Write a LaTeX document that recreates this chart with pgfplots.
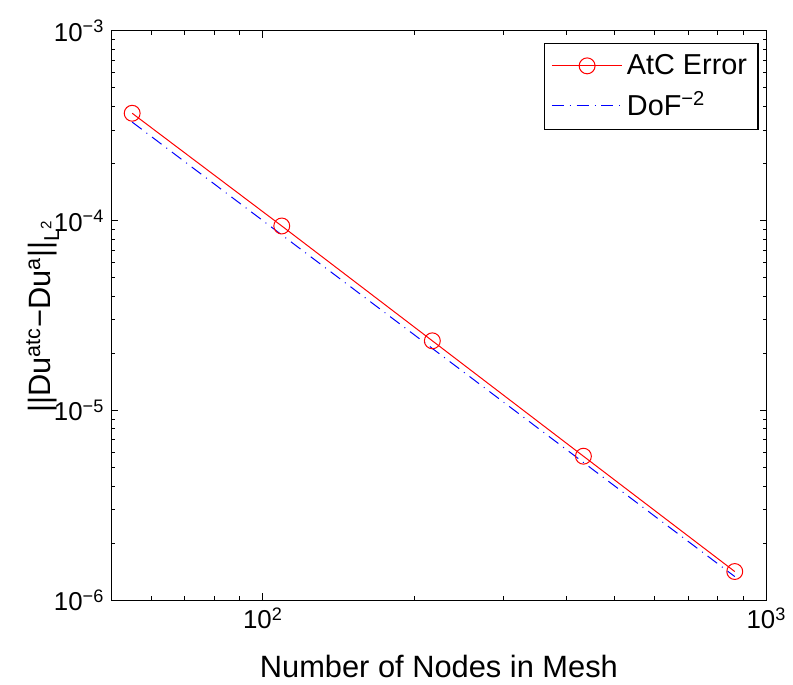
\documentclass[border=0pt]{standalone}
\usepackage{fontspec}
\setmainfont{Liberation Sans}
\usepackage{pgfplots}
\pgfplotsset{compat=1.18}

\begin{document}
\begin{tikzpicture}
\begin{axis}[
    xmode=log, ymode=log,
    scale only axis,
    width=329.5pt, height=286.5pt,
    xmin=50, xmax=1000, ymin=1e-6, ymax=1e-3,
    xtick={100,1000},
    xticklabels={10\textsuperscript{2}, 10\textsuperscript{3}},
    ytick={1e-6,1e-5,1e-4,1e-3},
    yticklabels={10\textsuperscript{−6}, 10\textsuperscript{−5}, 10\textsuperscript{−4}, 10\textsuperscript{−3}},
    minor xtick={50,60,70,80,90,200,300,400,500,600,700,800,900},
    minor ytick={2e-6,3e-6,4e-6,5e-6,6e-6,7e-6,8e-6,9e-6,
                 2e-5,3e-5,4e-5,5e-5,6e-5,7e-5,8e-5,9e-5,
                 2e-4,3e-4,4e-4,5e-4,6e-4,7e-4,8e-4,9e-4},
    tick label style={font=\fontsize{13}{15}\selectfont},
    major tick length=3.5pt, minor tick length=2pt,
    axis line style={line width=0.6pt},
    every tick/.style={black, line width=0.5pt},
    xlabel={Number of Nodes in Mesh},
    ylabel={||Du\textsuperscript{atc}−Du\textsuperscript{a}||\textsubscript{L\textsuperscript{2}}},
    every axis x label/.style={at={(axis description cs:0.5,-0.135)}, anchor=base,
        font=\fontsize{15.5}{18}\selectfont},
    every axis y label/.style={at={(axis description cs:-0.1047,0.5)}, rotate=90, anchor=center,
        font=\fontsize{15.5}{18}\selectfont},
    legend style={at={(0.988,0.979)}, anchor=north east, draw=black, line width=0.6pt,
        font=\fontsize{14.5}{17}\selectfont, row sep=3pt, inner sep=3.5pt},
    legend cell align=left,
    legend image code/.code={\draw[mark repeat=2,mark phase=2]
        plot coordinates {(0cm,0cm)(0.625cm,0cm)(1.25cm,0cm)};},
]
\addplot[red, line width=0.5pt, mark=o, mark size=4pt, mark options={solid}]
    coordinates {(55,3.68e-4)(109,9.38e-5)(217,2.33e-5)(433,5.75e-6)(865,1.42e-6)};
\addlegendentry{AtC Error}
\addplot[blue, line width=0.5pt, dash pattern=on 6pt off 3pt on 0.5pt off 3pt]
    coordinates {(55,3.306e-4)(109,8.417e-5)(217,2.124e-5)(433,5.333e-6)(865,1.3365e-6)};
\addlegendentry{DoF\textsuperscript{−2}}
\end{axis}
\path ([xshift=-56pt,yshift=-37.5pt]current axis.south west)
    rectangle ([xshift=11pt,yshift=15.5pt]current axis.north east);
\end{tikzpicture}
\end{document}
